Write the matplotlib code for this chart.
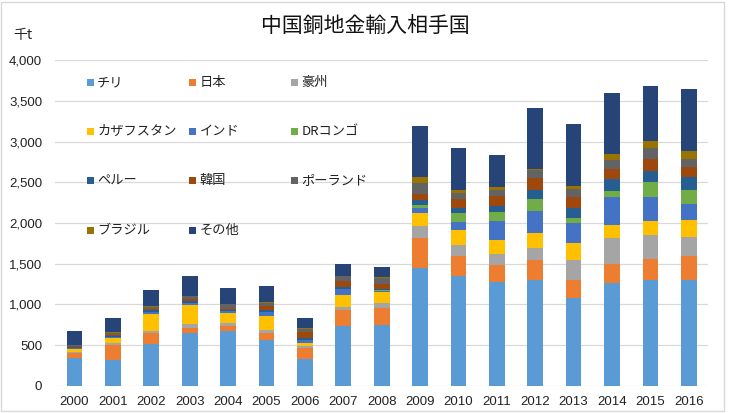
import matplotlib
matplotlib.use("Agg")
import matplotlib.pyplot as plt
from matplotlib.patches import Rectangle
import numpy as np

plt.rcParams["font.family"] = ["Liberation Sans", "Noto Sans CJK JP", "DejaVu Sans"]

years = [str(y) for y in range(2000, 2017)]
countries = ["チリ", "日本", "豪州", "カザフスタン", "インド", "DRコンゴ",
             "ペルー", "韓国", "ポーランド", "ブラジル", "その他"]
colors = ["#5B9BD5", "#ED7D31", "#A5A5A5", "#FFC000", "#4472C4", "#70AD47",
          "#255E91", "#9E480E", "#636363", "#997300", "#264478"]

# thousand tonnes
chile = [345, 320, 515, 650, 670, 560, 335, 740, 745, 1445, 1345, 1270, 1305, 1075, 1265, 1295, 1295]
japan = [55, 185, 130, 60, 65, 90, 130, 195, 210, 370, 255, 210, 235, 230, 235, 265, 295]
australia = [15, 20, 25, 45, 40, 40, 25, 30, 60, 145, 125, 145, 150, 245, 310, 295, 235]
kazakhstan = [45, 65, 215, 235, 125, 165, 40, 155, 135, 160, 190, 170, 190, 205, 170, 165, 215]
india = [5, 10, 25, 25, 15, 50, 35, 75, 20, 60, 100, 235, 265, 240, 335, 295, 190]
drc = [0, 0, 0, 0, 0, 0, 0, 0, 5, 40, 105, 100, 150, 65, 80, 190, 170]
peru = [10, 10, 20, 25, 20, 30, 20, 20, 20, 60, 70, 75, 110, 125, 150, 135, 165]
korea = [15, 10, 15, 25, 15, 45, 80, 70, 60, 80, 105, 125, 150, 130, 115, 150, 125]
poland = [10, 30, 25, 35, 50, 35, 40, 60, 70, 125, 75, 80, 100, 105, 115, 125, 95]
brazil = [5, 10, 10, 10, 10, 10, 5, 5, 10, 85, 40, 30, 5, 40, 70, 95, 100]
other = [170, 172, 195, 245, 190, 200, 122, 150, 125, 615, 515, 400, 755, 750, 750, 675, 755]

series = [chile, japan, australia, kazakhstan, india, drc, peru, korea, poland, brazil, other]

fig = plt.figure(figsize=(7.3, 4.13), dpi=100)
ax = fig.add_axes([0.0758, 0.0654, 0.894, 0.7893])

x = np.arange(len(years))
bottom = np.zeros(len(years))
for vals, col in zip(series, colors):
    vals = np.array(vals, dtype=float)
    ax.bar(x, vals, width=0.41, bottom=bottom, color=col, zorder=2)
    bottom += vals

ax.set_xlim(-0.5, len(years) - 0.5)
ax.set_ylim(0, 4000)
ax.set_yticks(np.arange(0, 4001, 500))
ax.set_yticklabels([f"{v:,}" for v in range(0, 4001, 500)])
ax.set_xticks(x)
ax.set_xticklabels(years)
ax.tick_params(axis="y", length=0, pad=9.5, labelsize=9.5, labelcolor="#222222")
ax.tick_params(axis="x", length=0, pad=7, labelsize=9.5, labelcolor="#222222")
ax.grid(axis="y", color="#D9D9D9", linewidth=0.9, zorder=0)
for s in ax.spines.values():
    s.set_visible(False)

fig.text(0.5, 0.937, "中国銅地金輸入相手国", ha="center", va="center",
         fontsize=15, family=["Noto Sans CJK JP", "DejaVu Sans"], color="#111111")
fig.text(0.018, 0.915, "千t", ha="left", va="center", fontsize=10,
         family=["Noto Sans CJK JP", "DejaVu Sans"], color="#222222")

# legend laid out like the Excel one: 3 columns, wide row spacing
W, H = 730.0, 413.0
col_x = [86.7, 189.0, 290.7]
row_y = [82.7, 131.0, 180.7, 230.0]
for i, (name, col) in enumerate(zip(countries, colors)):
    cx = col_x[i % 3]
    cy = row_y[i // 3]
    fig.patches.append(Rectangle((cx / W, 1 - (cy + 3.5) / H), 7.0 / W, 7.0 / H,
                                 transform=fig.transFigure, facecolor=col,
                                 edgecolor="none", zorder=5))
    fig.text((cx + 10.5) / W, 1 - cy / H, name, ha="left", va="center",
             fontsize=9.5, family=["Noto Sans CJK JP", "DejaVu Sans"], color="#222222")

fig.patches.append(Rectangle((0.002, 0.004), 0.99, 0.99, transform=fig.transFigure,
                             fill=False, edgecolor="#D9D9D9", linewidth=1.0))

fig.savefig("out.png", dpi=100)
plt.close(fig)
